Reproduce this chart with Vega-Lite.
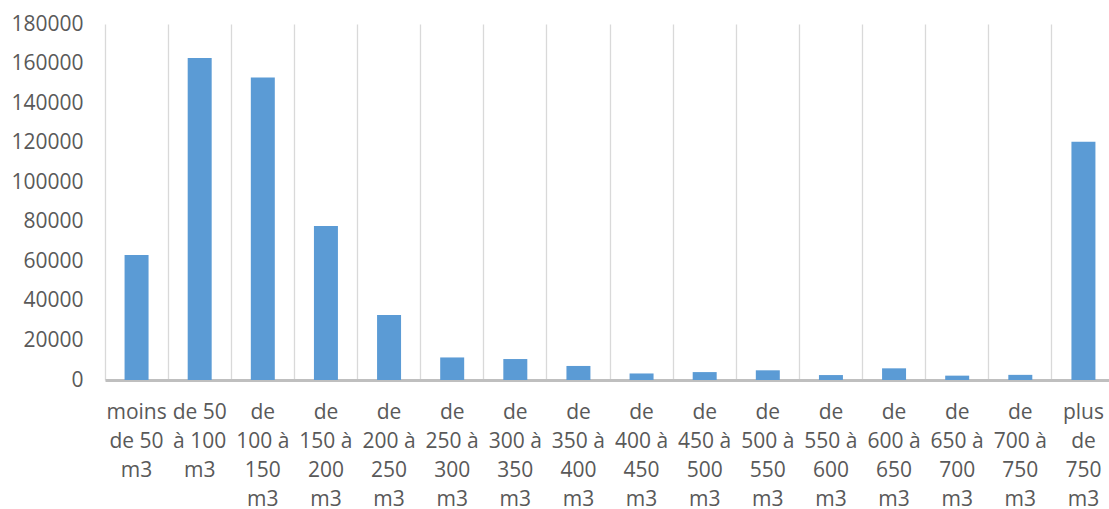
{
  "$schema": "https://vega.github.io/schema/vega-lite/v6.json",
  "autosize": {"type": "none"},
  "width": 1010,
  "height": 356,
  "padding": {"left": 105, "top": 24, "right": 0, "bottom": 129},
  "background": "white",
  "config": {"view": {"stroke": null}},
  "data": {"values": [
    {"classe": "moins de 50 m3", "valeur": 63200},
    {"classe": "de 50 à 100 m3", "valeur": 162800},
    {"classe": "de 100 à 150 m3", "valeur": 153000},
    {"classe": "de 150 à 200 m3", "valeur": 77900},
    {"classe": "de 200 à 250 m3", "valeur": 32900},
    {"classe": "de 250 à 300 m3", "valeur": 11400},
    {"classe": "de 300 à 350 m3", "valeur": 10600},
    {"classe": "de 350 à 400 m3", "valeur": 7100},
    {"classe": "de 400 à 450 m3", "valeur": 3300},
    {"classe": "de 450 à 500 m3", "valeur": 4000},
    {"classe": "de 500 à 550 m3", "valeur": 4900},
    {"classe": "de 550 à 600 m3", "valeur": 2500},
    {"classe": "de 600 à 650 m3", "valeur": 5900},
    {"classe": "de 650 à 700 m3", "valeur": 2200},
    {"classe": "de 700 à 750 m3", "valeur": 2600},
    {"classe": "plus de 750 m3", "valeur": 120500}
  ]},
  "mark": {"type": "bar", "color": "#5B9BD5", "width": {"band": 0.38}},
  "encoding": {
    "x": {
      "field": "classe", "type": "nominal", "sort": null,
      "scale": {"paddingInner": 0, "paddingOuter": 0},
      "axis": {
        "title": null, "labelAngle": 0, "ticks": false,
        "grid": true, "bandPosition": 0, "gridColor": "#D9D9D9", "gridWidth": 1.3,
        "domainColor": "#BFBFBF", "domainWidth": 3,
        "labelFont": "Open Sans", "labelFontSize": 21, "labelColor": "#595959",
        "labelPadding": 21, "labelLineHeight": 29, "labelBaseline": "top",
        "labelLimit": 0,
        "labelExpr": "datum.label == 'moins de 50 m3' ? ['moins','de 50','m3'] : datum.label == 'de 50 à 100 m3' ? ['de 50','à 100','m3'] : datum.label == 'plus de 750 m3' ? ['plus','de','750','m3'] : [split(datum.label,' ')[0], split(datum.label,' ')[1] + ' à', split(datum.label,' ')[3], 'm3']"
      }
    },
    "y": {
      "field": "valeur", "type": "quantitative",
      "scale": {"domain": [0, 180000], "nice": false},
      "axis": {
        "title": null, "values": [0, 20000, 40000, 60000, 80000, 100000, 120000, 140000, 160000, 180000],
        "format": "d", "grid": false, "ticks": false, "domain": false,
        "labelFont": "Open Sans", "labelFontSize": 21, "labelColor": "#595959",
        "labelPadding": 22
      }
    }
  }
}
